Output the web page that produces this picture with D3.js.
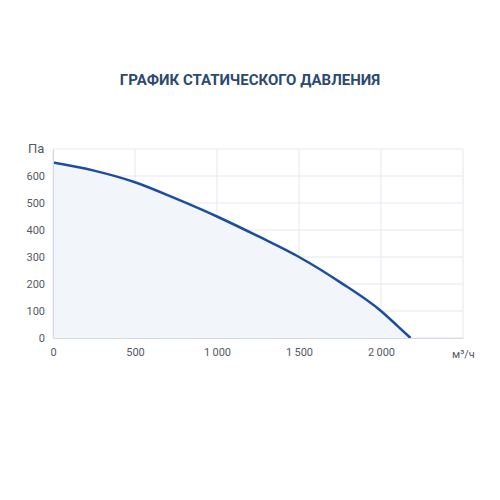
<!DOCTYPE html>
<html>
<head>
<meta charset="utf-8">
<script src="https://cdn.jsdelivr.net/npm/d3@7"></script>
<style>
  body { margin: 0; background: #fff; }
  svg { display: block; font-family: Roboto, "Noto Sans", sans-serif; }
</style>
</head>
<body>
<div id="chart"></div>
<script>
// airflow, m3/h
var flow = [0, 250, 500, 750, 1000, 1250, 1500, 1750, 2000, 2100, 2180];
// static pressure, Pa
var pressure = [650, 620, 577, 516, 450, 377, 300, 207, 100, 45, 0];
var xTicks = [0, 500, 1000, 1500, 2000];
var yTicks = [0, 100, 200, 300, 400, 500, 600];

var width = 500, height = 500;
var margin = {left: 53, right: 37, top: 149, bottom: 162};

var svg = d3.select("#chart").append("svg")
    .attr("width", width)
    .attr("height", height);

var x = d3.scaleLinear().domain([0, 2500]).range([margin.left, width - margin.right]);
var y = d3.scaleLinear().domain([0, 700]).range([height - margin.bottom, margin.top]);

var fmt = function(d){ return d3.format(",")(d).replace(/,/g, "\u2009"); };

svg.append("text")
    .attr("x", 250).attr("y", 85)
    .attr("text-anchor", "middle")
    .attr("font-size", 15)
    .attr("font-weight", "bold")
    .attr("fill", "#2c4a6e")
    .text("ГРАФИК СТАТИЧЕСКОГО ДАВЛЕНИЯ");

// grid
var grid = svg.append("g");
grid.selectAll(".gy").data(yTicks.concat([700])).enter().append("line")
    .attr("x1", x(0)).attr("x2", x(2500))
    .attr("y1", function(d){ return y(d); }).attr("y2", function(d){ return y(d); })
    .attr("stroke", "#e4e7ed").attr("stroke-width", 1);
grid.selectAll(".gx").data(xTicks.concat([2500])).enter().append("line")
    .attr("x1", function(d){ return x(d); }).attr("x2", function(d){ return x(d); })
    .attr("y1", y(0)).attr("y2", y(700))
    .attr("stroke", "#e4e7ed").attr("stroke-width", 1);

var pts = flow.map(function(f, i){ return [f, pressure[i]]; });

var area = d3.area()
    .x(function(d){ return x(d[0]); })
    .y0(y(0))
    .y1(function(d){ return y(d[1]); })
    .curve(d3.curveMonotoneX);
svg.append("path").datum(pts)
    .attr("d", area)
    .attr("fill", "#f2f5fa");

var line = d3.line()
    .x(function(d){ return x(d[0]); })
    .y(function(d){ return y(d[1]); })
    .curve(d3.curveMonotoneX);
svg.append("path").datum(pts)
    .attr("d", line)
    .attr("fill", "none")
    .attr("stroke", "#1d4e9e")
    .attr("stroke-width", 2.5);

// axes
var yAxis = svg.append("g")
    .attr("transform", "translate(" + x(0) + ",0)")
    .call(d3.axisLeft(y).tickValues(yTicks).tickSize(0).tickPadding(8));
yAxis.select(".domain").attr("stroke", "#d6dae2");
yAxis.selectAll("text").attr("font-size", 11).attr("fill", "#555a63")
    .attr("font-family", "Roboto, sans-serif");

var xAxis = svg.append("g")
    .attr("transform", "translate(0," + y(0) + ")")
    .call(d3.axisBottom(x).tickValues(xTicks).tickFormat(fmt).tickSize(0).tickPadding(10));
xAxis.select(".domain").attr("stroke", "#d6dae2");
xAxis.selectAll("text").attr("font-size", 11).attr("fill", "#555a63")
    .attr("font-family", "Roboto, sans-serif");

svg.append("text")
    .attr("x", 28).attr("y", 153)
    .attr("font-size", 13).attr("fill", "#555a63")
    .text("Па");

svg.append("text")
    .attr("x", 452).attr("y", 358)
    .attr("font-size", 11).attr("fill", "#555a63")
    .text("м³/ч");
</script>
</body>
</html>
